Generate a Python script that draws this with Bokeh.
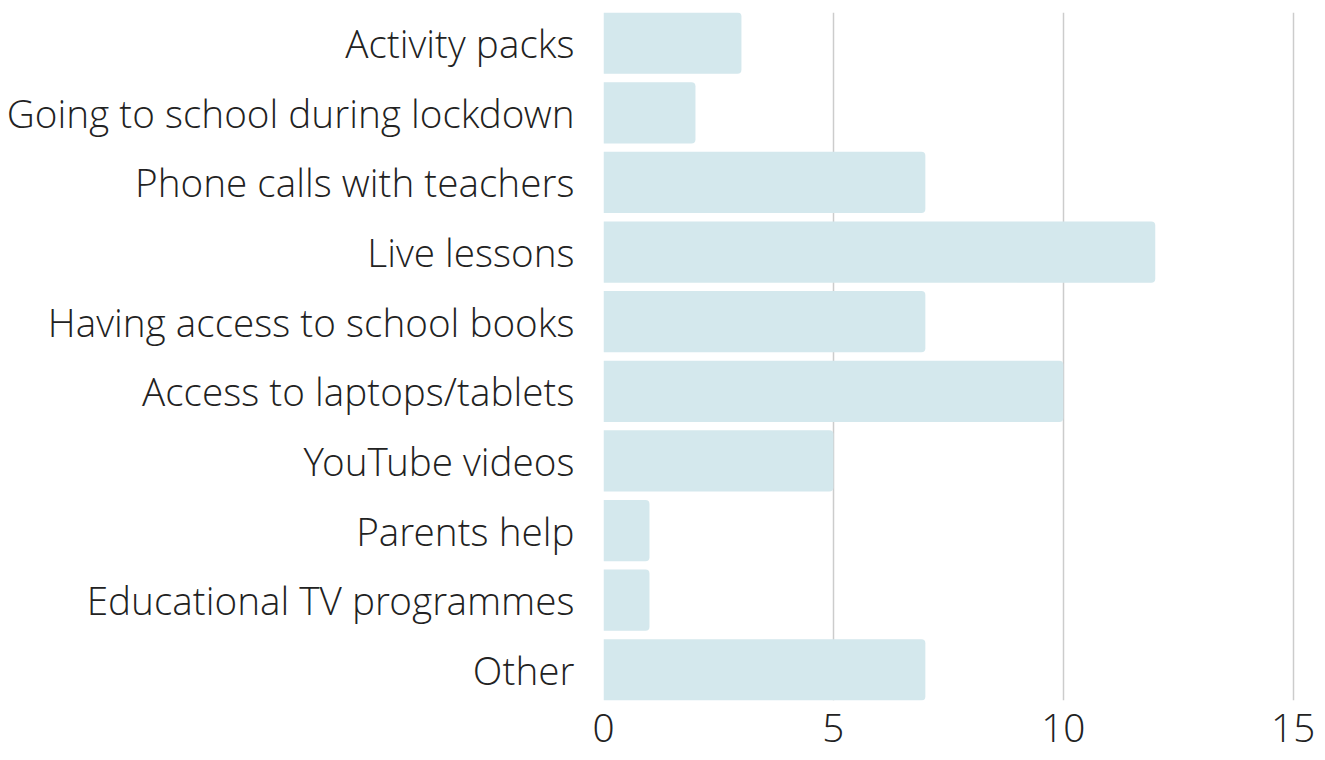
from bokeh.plotting import figure
from bokeh.embed import file_html
from bokeh.resources import INLINE
from bokeh.models import FactorRange, Range1d, FixedTicker

categories = ["Activity packs", "Going to school during lockdown", "Phone calls with teachers",
              "Live lessons", "Having access to school books", "Access to laptops/tablets",
              "YouTube videos", "Parents help", "Educational TV programmes", "Other"]
values = [3, 2, 7, 12, 7, 10, 5, 1, 1, 7]
x_ticks = [0, 5, 10, 15]

FONT = "'Open Sans Light', 'Open Sans', sans-serif"

yr = FactorRange(factors=list(reversed(categories)), range_padding=-0.06, range_padding_units="absolute")
p = figure(y_range=yr, x_range=Range1d(0, 15.05), width=1320, height=760,
           output_backend="svg", toolbar_location=None, min_border_left=603,
           min_border_top=12, min_border_right=25, min_border_bottom=60)
p.outline_line_color = None

p.hbar(y=categories, right=values, left=0, height=0.88, fill_color="#d4e8ed", line_color=None,
       border_radius={"top_left": 0, "top_right": 4, "bottom_right": 4, "bottom_left": 0})

p.xaxis.ticker = FixedTicker(ticks=x_ticks)
for ax in (p.xaxis[0], p.yaxis[0]):
    ax.axis_line_color = None
    ax.major_tick_line_color = None
    ax.minor_tick_line_color = None
    ax.major_label_text_font = FONT
    ax.major_label_text_font_size = "38.7px"
    ax.major_label_text_color = "#222222"
p.yaxis.major_label_standoff = 23
p.xaxis.major_label_standoff = 7

p.ygrid.grid_line_color = None
p.xgrid.grid_line_color = "#cccccc"
p.xgrid.grid_line_width = 1.5

open("out.html", "w").write(file_html(p, INLINE))
